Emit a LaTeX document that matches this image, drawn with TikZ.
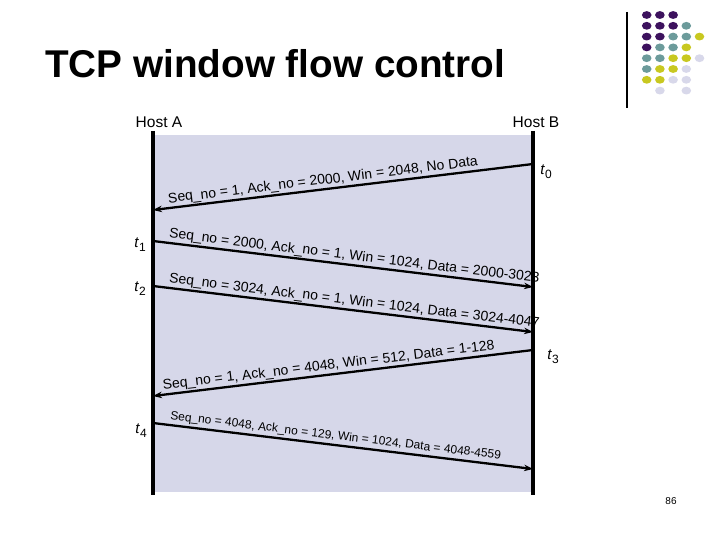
\documentclass[tikz,border=0pt]{standalone}
\usepackage{fontspec}
\setmainfont{Liberation Sans}
\usetikzlibrary{arrows.meta}
\definecolor{shadebg}{RGB}{214,215,233}
\definecolor{dP}{RGB}{61,18,94}
\definecolor{dT}{RGB}{108,155,155}
\definecolor{dY}{RGB}{200,200,32}
\definecolor{dL}{RGB}{216,216,234}
\newcommand{\tsub}[1]{\textit{t}\raisebox{-4pt}{\fontsize{12}{14}\selectfont #1}}
\begin{document}
\begin{tikzpicture}[x=1pt,y=-1pt,
  hostline/.style={line width=3.5pt},
  msg/.style={line width=2.3pt,-{Stealth[length=9pt,width=6.5pt]}},
  lbl/.style={font=\fontsize{14}{16}\selectfont,sloped,anchor=south west,inner xsep=0pt,inner ysep=1pt},
  lblsmall/.style={lbl,font=\fontsize{12}{14}\selectfont,inner ysep=2pt},
  tlab/.style={font=\fontsize{15}{17}\selectfont,inner sep=0pt},
  hostlab/.style={font=\fontsize{15.5}{18}\selectfont,inner sep=0pt}]
\useasboundingbox (0,0) rectangle (720,540);
% title
\node[anchor=base west,inner sep=0pt,font=\fontsize{38.7}{44}\selectfont\bfseries] (title) at (45,78) {TCP window flow control};
% decoration top right
\coordinate (vt) at (627,12);
\coordinate (vb) at (627,108);
\draw[line width=1.2pt] (vt) -- (vb);
\foreach \c/\r/\col in {0/0/dP,1/0/dP,2/0/dP,
  0/1/dP,1/1/dP,2/1/dP,3/1/dT,
  0/2/dP,1/2/dP,2/2/dT,3/2/dT,4/2/dY,
  0/3/dP,1/3/dT,2/3/dT,3/3/dY,
  0/4/dT,1/4/dT,2/4/dY,3/4/dY,4/4/dL,
  0/5/dT,1/5/dY,2/5/dY,3/5/dL,
  0/6/dY,1/6/dY,2/6/dL,3/6/dL,
  1/7/dL,3/7/dL}
  \fill[\col] ({646.7+13.2*\c},{15+10.8*\r}) ellipse [x radius=4.8pt,y radius=3.9pt];
% background
\fill[shadebg] (153,135) rectangle (533,492);
% hosts
\node[hostlab] (hA) at (159,122) {Host A};
\node[hostlab] (hB) at (536,122) {Host B};
\coordinate (Atop) at (153,131);
\coordinate (Abot) at (153,495);
\coordinate (Btop) at (533,131);
\coordinate (Bbot) at (533,495);
\draw[hostline] (Atop) -- (Abot);
\draw[hostline] (Btop) -- (Bbot);
% message end points
\coordinate (B0) at (533,164);
\coordinate (A0) at (153,210);
\coordinate (A1) at (153,241);
\coordinate (B1) at (533,287);
\coordinate (A2) at (153,286);
\coordinate (B2) at (533,332);
\coordinate (B3) at (533,350);
\coordinate (A3) at (153,396);
\coordinate (A4) at (153,423);
\coordinate (B4) at (533,469);
% messages
\draw[msg] (B0) -- node[lbl,pos=0.96] (m0) {Seq\_no = 1, Ack\_no = 2000, Win = 2048, No Data} (A0);
\begin{scope}
\clip (0,0) rectangle (540,540);
\draw[msg] (A1) -- node[lbl,pos=0.037] (m1) {Seq\_no = 2000, Ack\_no = 1, Win = 1024, Data = 2000-3023} (B1);
\draw[msg] (A2) -- node[lbl,pos=0.037] (m2) {Seq\_no = 3024, Ack\_no = 1, Win = 1024, Data = 3024-4047} (B2);
\end{scope}
\draw[msg] (B3) -- node[lbl,pos=0.974] (m3) {Seq\_no = 1, Ack\_no = 4048, Win = 512, Data = 1-128} (A3);
\draw[msg] (A4) -- node[lblsmall,pos=0.04] (m4) {Seq\_no = 4048, Ack\_no = 129, Win = 1024, Data = 4048-4559} (B4);
% time labels
\node[tlab] (t0) at (546,172) {\tsub{0}};
\node[tlab] (t1) at (140,245) {\tsub{1}};
\node[tlab] (t2) at (140,289) {\tsub{2}};
\node[tlab] (t3) at (553,357) {\tsub{3}};
\node[tlab] (t4) at (141,431) {\tsub{4}};
% page number
\node[font=\fontsize{10}{12}\selectfont,inner sep=0pt] (pg) at (671,501) {86};
\end{tikzpicture}
\end{document}
